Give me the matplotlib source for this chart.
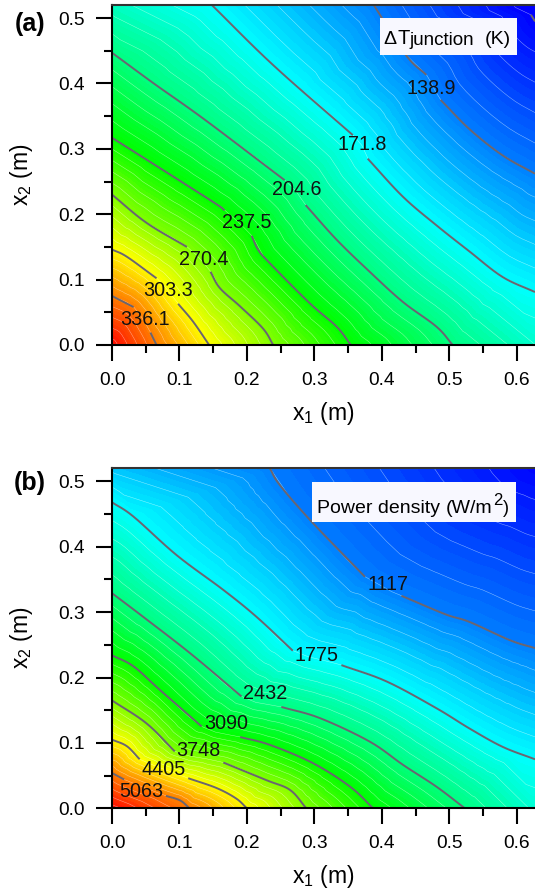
import numpy as np
import matplotlib
matplotlib.use('Agg')
import matplotlib.pyplot as plt
import matplotlib.tri as mtri
from matplotlib.colors import LinearSegmentedColormap
from matplotlib.patches import Rectangle

plt.rcParams['font.family'] = ['Liberation Sans', 'DejaVu Sans']
plt.rcParams['mathtext.default'] = 'regular'
plt.rcParams['mathtext.fontset'] = 'custom'
plt.rcParams['mathtext.rm'] = 'Liberation Sans'

XMAX = 0.627
YMAX = 0.52
LINE = '#6b6570'

# (a) contour readings, one list of segments per level, gaps are at the labels
levels_a = [106.0, 138.9, 171.8, 204.6, 237.5, 270.4, 303.3, 336.1]
lines_a = [
    [[(0.621, 0.505), (0.627, 0.495)]],
    [[(0.388, 0.52), (0.436, 0.443), (0.466, 0.413)],
     [(0.487, 0.375), (0.530, 0.330), (0.579, 0.290), (0.627, 0.262)]],
    [[(0.148, 0.52), (0.239, 0.428), (0.357, 0.321)],
     [(0.379, 0.285), (0.431, 0.227), (0.481, 0.183), (0.530, 0.143), (0.579, 0.104), (0.627, 0.081)]],
    [[(0.0, 0.447), (0.062, 0.400), (0.137, 0.345), (0.256, 0.252)],
     [(0.287, 0.214), (0.333, 0.161), (0.382, 0.112), (0.431, 0.066), (0.481, 0.028), (0.505, 0.0)]],
    [[(0.0, 0.317), (0.145, 0.222), (0.167, 0.206)],
     [(0.207, 0.167), (0.217, 0.145), (0.234, 0.125), (0.293, 0.064), (0.333, 0.028), (0.354, 0.0)]],
    [[(0.0, 0.230), (0.051, 0.187), (0.111, 0.150)],
     [(0.146, 0.112), (0.160, 0.087), (0.190, 0.059), (0.224, 0.025), (0.239, 0.0)]],
    [[(0.0, 0.146), (0.022, 0.135), (0.066, 0.102)],
     [(0.098, 0.063), (0.120, 0.036), (0.144, 0.0)]],
    [[(0.0, 0.075), (0.032, 0.058)],
     [(0.057, 0.019), (0.066, 0.0)]],
]
labels_a = ['', '138.9', '171.8', '204.6', '237.5', '270.4', '303.3', '336.1']
label_pos_a = [None, (0.473, 0.393), (0.371, 0.306), (0.274, 0.238),
               (0.200, 0.187), (0.136, 0.131), (0.083, 0.084), (0.049, 0.039)]
# values estimated in the corners, where no line runs
corners_a = [(0.0, 0.0, 366.0), (XMAX, 0.0, 185.0), (0.0, YMAX, 188.0), (XMAX, YMAX, 101.0)]

# (b)
levels_b = [1117, 1775, 2432, 3090, 3748, 4405, 5063]
lines_b = [
    [[(0.234, 0.52), (0.249, 0.494), (0.298, 0.436), (0.375, 0.354)],
     [(0.429, 0.325), (0.445, 0.318), (0.496, 0.296), (0.530, 0.285), (0.590, 0.257), (0.627, 0.245)]],
    [[(0.0, 0.468), (0.032, 0.446), (0.096, 0.387), (0.165, 0.334), (0.214, 0.293), (0.268, 0.241)],
     [(0.340, 0.219), (0.407, 0.194), (0.481, 0.153), (0.530, 0.122), (0.579, 0.094), (0.627, 0.075)]],
    [[(0.0, 0.329), (0.046, 0.293), (0.116, 0.237), (0.192, 0.171)],
     [(0.251, 0.155), (0.308, 0.138), (0.382, 0.102), (0.432, 0.066), (0.481, 0.033), (0.523, 0.0)]],
    [[(0.0, 0.234), (0.032, 0.217), (0.071, 0.181), (0.133, 0.125)],
     [(0.190, 0.109), (0.234, 0.097), (0.298, 0.069), (0.353, 0.033), (0.387, 0.0)]],
    [[(0.0, 0.165), (0.051, 0.130), (0.093, 0.087)],
     [(0.165, 0.070), (0.229, 0.043), (0.264, 0.028), (0.288, 0.0)]],
    [[(0.0, 0.105), (0.022, 0.095), (0.041, 0.075)],
     [(0.113, 0.046), (0.155, 0.031), (0.184, 0.015), (0.200, 0.0)]],
    [[(0.0, 0.054), (0.018, 0.044)],
     [(0.080, 0.019), (0.101, 0.012), (0.115, 0.0)]],
]
labels_b = ['1117', '1775', '2432', '3090', '3748', '4405', '5063']
label_pos_b = [(0.409, 0.343), (0.303, 0.233), (0.227, 0.176), (0.169, 0.129),
               (0.128, 0.088), (0.076, 0.059), (0.044, 0.025)]
corners_b = [(0.0, 0.0, 5650.0), (XMAX, 0.0, 2000.0), (0.0, YMAX, 1480.0), (XMAX, YMAX, 480.0)]

rainbow = LinearSegmentedColormap.from_list(
    'rainbow5', ['#0000ff', '#00ffff', '#00ff00', '#ffff00', '#ff0000'])


# Catmull-Rom through the read points, only to round the drawn polyline
def rounded(points, n):
    pts = np.array(points, dtype=float)
    if len(pts) < 3:
        return pts
    p = np.vstack([2 * pts[0] - pts[1], pts, 2 * pts[-1] - pts[-2]])
    out = []
    for i in range(1, len(p) - 2):
        for t in np.arange(n) / n:
            out.append(0.5 * (2 * p[i] + (p[i + 1] - p[i - 1]) * t
                              + (2 * p[i - 1] - 5 * p[i] + 4 * p[i + 1] - p[i + 2]) * t ** 2
                              + (3 * p[i] - p[i - 1] - 3 * p[i + 1] + p[i + 2]) * t ** 3))
    out.append(pts[-1])
    return np.array(out)


def draw_panel(ax, levels, lines, labels, label_pos, corners, vmin, vmax, step):
    xs, ys, zs = [], [], []
    for level, segs in zip(levels, lines):
        chain = rounded([pt for seg in segs for pt in seg], 3)
        xs.extend(np.clip(chain[:, 0], 0, XMAX))
        ys.extend(np.clip(chain[:, 1], 0, YMAX))
        zs.extend([level] * len(chain))
    for x, y, z in corners:
        xs.append(x)
        ys.append(y)
        zs.append(z)

    tri = mtri.Triangulation(xs, ys)
    bands = np.arange(vmin - step, vmax + step, step)
    fill_bands = np.arange(vmin - step, vmax + step, step / 3)
    zvals = np.clip(np.array(zs, dtype=float), vmin - step, vmax - 1)
    ax.tricontourf(tri, zvals, levels=fill_bands, cmap=rainbow, vmin=vmin, vmax=vmax)
    ax.tricontour(tri, zvals, levels=bands, colors='white', linewidths=0.35, alpha=0.55)

    for segs in lines:
        for seg in segs:
            pts = rounded(seg, 8)
            ax.plot(pts[:, 0], pts[:, 1], color=LINE, lw=1.4, solid_capstyle='butt')

    for text, pos in zip(labels, label_pos):
        if pos is not None:
            ax.text(pos[0], pos[1], text, fontsize=14.2, color='#111111',
                    ha='center', va='center')

    ax.set_xlim(0, XMAX)
    ax.set_ylim(0, YMAX)
    ax.set_xticks(np.arange(0, 0.61, 0.1))
    ax.set_yticks(np.arange(0, 0.51, 0.1))
    ax.set_xticks(np.arange(0.05, 0.62, 0.1), minor=True)
    ax.set_yticks(np.arange(0.05, 0.51, 0.1), minor=True)
    ax.set_xticklabels(['0.0', '0.1', '0.2', '0.3', '0.4', '0.5', '0.6'])
    ax.set_yticklabels(['0.0', '0.1', '0.2', '0.3', '0.4', '0.5'])
    ax.tick_params(which='major', length=11.5, width=1.5, labelsize=13.8, pad=8)
    ax.tick_params(which='minor', length=5.8, width=1.5)
    ax.spines['right'].set_visible(False)
    ax.spines['left'].set_linewidth(1.5)
    ax.spines['bottom'].set_linewidth(1.5)
    ax.spines['top'].set_linewidth(1.5)
    ax.spines['top'].set_color('#333333')
    ax.set_xlabel('x$_1$ (m)', fontsize=16.5, labelpad=8)
    ax.set_ylabel('x$_2$ (m)', fontsize=16.5, labelpad=17)


W, H = 535, 893
fig = plt.figure(figsize=(W / 100, H / 100), dpi=100)
ax1 = fig.add_axes([112 / W, 1 - 345 / H, (W - 112) / W, 340 / H])
ax2 = fig.add_axes([112 / W, 1 - 808.3 / H, (W - 112) / W, 340 / H])

draw_panel(ax1, levels_a, lines_a, labels_a, label_pos_a, corners_a, 106.0, 369.0, 6.57)
draw_panel(ax2, levels_b, lines_b, labels_b, label_pos_b, corners_b, 459.0, 5720.0, 131.5)

fig.text(15 / W, 1 - 24 / H, '(a)', fontsize=18, fontweight='bold', va='center')
fig.text(14 / W, 1 - 483 / H, '(b)', fontsize=18, fontweight='bold', va='center')


def title_piece(px, py, text, size):
    fig.text(px / W, 1 - py / H, text, fontsize=size, va='baseline', ha='left', zorder=6)


# white boxes behind the two titles
fig.add_artist(Rectangle((380 / W, 1 - 55 / H), 137 / W, 37 / H, transform=fig.transFigure,
                         facecolor='#f8f8ff', edgecolor='none', zorder=5))
fig.add_artist(Rectangle((312 / W, 1 - 522 / H), 204 / W, 40 / H, transform=fig.transFigure,
                         facecolor='#f8f8ff', edgecolor='none', zorder=5))
title_piece(383, 44, '\u0394', 14)
title_piece(397, 44, 'T', 14.5)
title_piece(409, 45, 'junction', 13.6)
title_piece(485, 44, '(K)', 14)
title_piece(317, 513, 'Power density', 14)
title_piece(446, 513, '(W/m', 14)
title_piece(493, 505, '2', 12)
title_piece(503, 513, ')', 13)

fig.savefig('out.png', dpi=100)
